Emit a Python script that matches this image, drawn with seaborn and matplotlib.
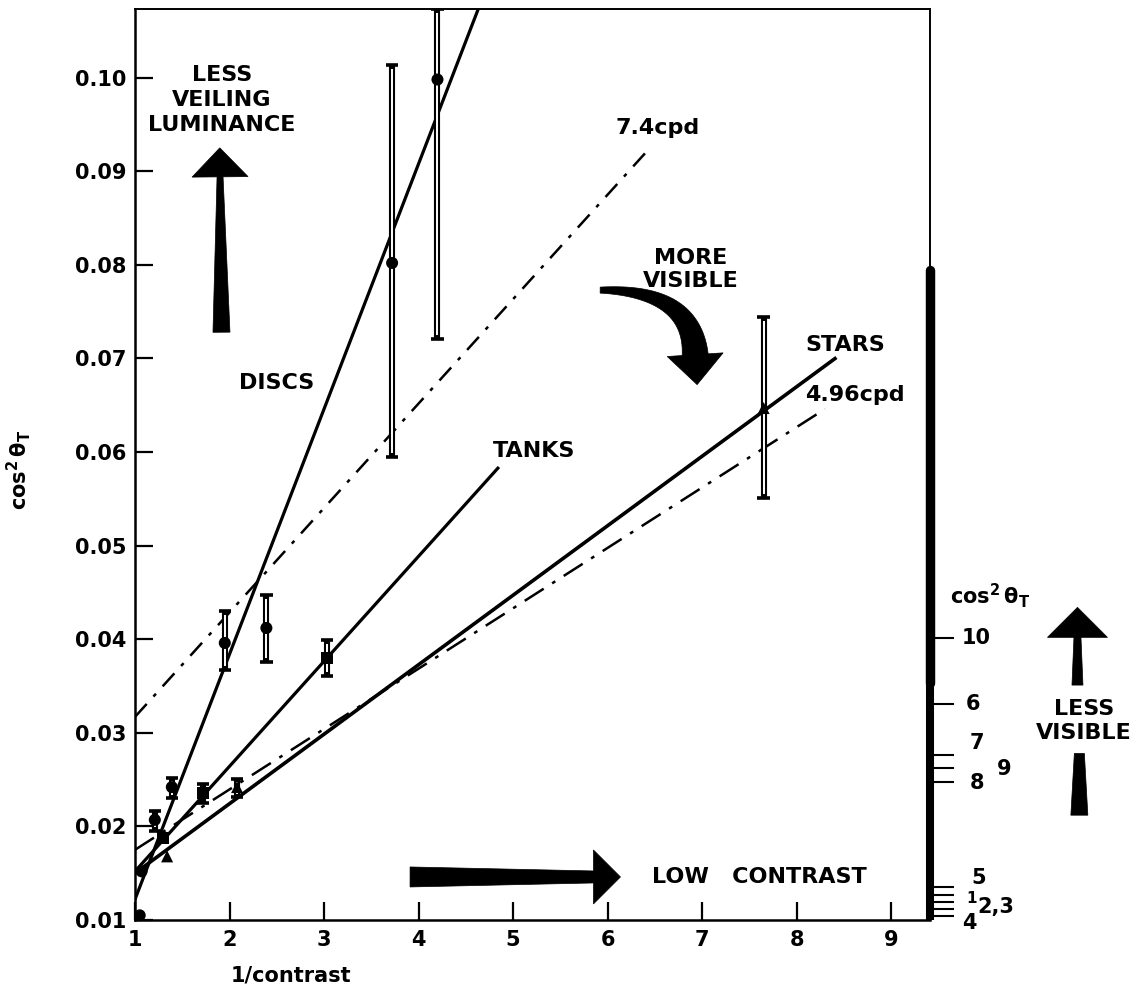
import numpy as np
import pandas as pd
import matplotlib
matplotlib.use("Agg")
import matplotlib.pyplot as plt
import seaborn as sns
from matplotlib.patches import Polygon
from matplotlib.transforms import IdentityTransform

# values
disc_x = [1.05, 1.07, 1.21, 1.39, 1.95, 2.39, 3.72, 4.20]
disc_y = [0.0105, 0.0152, 0.0207, 0.0242, 0.0396, 0.0412, 0.0802, 0.0998]
disc_lo = [np.nan, np.nan, 0.0195, 0.0230, 0.0367, 0.0376, 0.0595, 0.0721]
disc_hi = [np.nan, np.nan, 0.0216, 0.0252, 0.0430, 0.0447, 0.1013, 0.1073]

tank_x = [1.30, 1.72, 3.03]
tank_y = [0.0188, 0.0236, 0.0380]
tank_lo = [np.nan, 0.0225, 0.0361]
tank_hi = [np.nan, 0.0245, 0.0399]

star_x = [1.34, 2.08, 7.65]
star_y = [0.0168, 0.0242, 0.0647]
star_lo = [np.nan, 0.0231, 0.0551]
star_hi = [np.nan, 0.0251, 0.0744]

# fitted lines (end points)
disc_fit_x = [1.0, 4.63]
disc_fit_y = [0.0122, 0.1073]
tank_fit_x = [1.0, 4.85]
tank_fit_y = [0.0152, 0.0584]
star_fit_x = [1.0, 8.42]
star_fit_y = [0.0150, 0.0701]
cpd74_x = [1.0, 6.43]
cpd74_y = [0.0317, 0.0923]
cpd496_x = [1.0, 8.30]
cpd496_y = [0.0175, 0.0646]

# right hand cos^2 theta_T scale
scale_ticks = [0.0401, 0.0331, 0.0276, 0.0262, 0.0247, 0.0135, 0.0127, 0.0119, 0.0112, 0.0104]
scale_labels = ["10", "6", "7", "9", "8", "5", "1", "2,3", "4"]
scale_label_x = [9.75, 9.79, 9.83, 10.12, 9.83, 9.85, 9.79, 9.91, 9.75]
scale_label_y = [0.0401, 0.0331, 0.0289, 0.0261, 0.0246, 0.0145, 0.0123, 0.0114, 0.0097]

x_ticks = [1, 2, 3, 4, 5, 6, 7, 8, 9]
y_ticks = [0.01, 0.02, 0.03, 0.04, 0.05, 0.06, 0.07, 0.08, 0.09, 0.10]

sns.set_style("ticks")
plt.rcParams["font.family"] = ["DejaVu Sans"]
plt.rcParams["mathtext.fontset"] = "dejavusans"
plt.rcParams["text.color"] = "black"
plt.rcParams["axes.labelcolor"] = "black"

fig = plt.figure(figsize=(11.39, 9.93), dpi=100)
ax = fig.add_axes([0.1185, 0.0735, 0.698, 0.9174])
ax.set_xlim(1, 9.41)
ax.set_ylim(0.01, 0.10733)

for sp in ax.spines.values():
    sp.set_linewidth(1.4)
    sp.set_color("black")
ax.spines["left"].set_linewidth(1.8)
ax.spines["bottom"].set_linewidth(1.8)

# fitted lines
ax.plot(disc_fit_x, disc_fit_y, color="black", lw=2.3)
ax.plot(tank_fit_x, tank_fit_y, color="black", lw=2.3, solid_capstyle="butt")
ax.plot(star_fit_x, star_fit_y, color="black", lw=2.6, solid_capstyle="butt")
ax.plot(cpd74_x, cpd74_y, color="black", lw=1.8, dashes=(7, 4, 1.5, 4))
ax.plot(cpd496_x, cpd496_y, color="black", lw=1.8, dashes=(9, 4, 1.5, 4))


def draw_errors(xs, lo, hi):
    for x, a, b in zip(xs, lo, hi):
        if np.isnan(a):
            continue
        ax.vlines(x, a, b, color="black", lw=4.4, zorder=3)
        ax.vlines(x, a + 0.0004, b - 0.0004, color="white", lw=1.4, zorder=3)
        ax.hlines([a, b], x - 0.065, x + 0.065, color="black", lw=2.6, zorder=3)


draw_errors(disc_x, disc_lo, disc_hi)
draw_errors(tank_x, tank_lo, tank_hi)
draw_errors(star_x, star_lo, star_hi)

pts = pd.DataFrame({
    "x": disc_x + tank_x + star_x,
    "y": disc_y + tank_y + star_y,
    "target": ["DISCS"] * len(disc_x) + ["TANKS"] * len(tank_x) + ["STARS"] * len(star_x),
})
sns.scatterplot(data=pts, x="x", y="y", style="target",
                markers={"DISCS": "o", "TANKS": "s", "STARS": "^"},
                color="black", s=75, linewidth=0, legend=False, ax=ax, zorder=5)

ax.set_xticks(x_ticks)
ax.set_yticks(y_ticks)
ax.set_yticklabels([f"{v:.2f}" for v in y_ticks])
ax.tick_params(direction="in", length=13, width=1.6, labelsize=15, colors="black")
ax.tick_params(axis="x", pad=7)
ax.tick_params(axis="y", pad=6)
for lab in ax.get_xticklabels() + ax.get_yticklabels():
    lab.set_fontweight("bold")

ax.set_xlabel("1/contrast", fontsize=15, fontweight="bold")
ax.xaxis.set_label_coords(0.196, -0.05)
ax.set_ylabel(r"$\mathbf{cos^2\,\theta_T}$", fontsize=15)
ax.yaxis.set_label_coords(-0.128, 0.494)

# thick right hand scale bar and its ticks
ax.plot([9.41, 9.41], [0.0100, 0.0353], color="black", lw=5.8, clip_on=False,
        solid_capstyle="butt", zorder=6)
ax.plot([9.41, 9.41], [0.0353, 0.0795], color="black", lw=6.8, clip_on=False,
        solid_capstyle="round", zorder=6)
ax.hlines(scale_ticks, 9.41, 9.66, color="black", lw=1.5, clip_on=False)
for lab, lx, ly in zip(scale_labels, scale_label_x, scale_label_y):
    ax.text(lx, ly, lab, ha="left", va="center", fontsize=15 if lab != "1" else 11,
            fontweight="bold", clip_on=False)
ax.text(10.05, 0.0447, r"$\mathbf{cos^2\,\theta_T}$", ha="center", va="center",
        fontsize=15, clip_on=False)


def tapered_arrow(xs, ys, w0, w1, head_w=0, head_l=0):
    p = ax.transData.transform(np.column_stack([xs, ys]))
    d = np.gradient(p, axis=0)
    d /= np.linalg.norm(d, axis=1)[:, None]
    n = np.column_stack([-d[:, 1], d[:, 0]])
    w = np.linspace(w0, w1, len(p))[:, None] / 2
    parts = [p + n * w]
    if head_l:
        e, de, ne = p[-1], d[-1], n[-1]
        parts.append([e + ne * head_w, e + de * head_l, e - ne * head_w])
    parts.append((p - n * w)[::-1])
    ax.add_patch(Polygon(np.vstack(parts), closed=True, transform=IdentityTransform(),
                         facecolor="black", edgecolor="black", lw=0.5,
                         clip_on=False, zorder=6))


# arrows
tapered_arrow([1.915, 1.90], [0.0728, 0.0894], 17, 6, 28, 29)
tapered_arrow([3.91, 5.85], [0.0146, 0.0146], 20, 12, 27, 27)
tapered_arrow([10.97, 10.97], [0.0351, 0.0402], 11, 7, 30, 30)
tapered_arrow([10.99, 10.99], [0.0212, 0.0278], 17, 10)
t = np.linspace(0, 1, 40)
p0, p1, p2 = np.array([5.921, 0.0773]), np.array([6.894, 0.0773]), np.array([6.926, 0.0704])
curve = ((1 - t) ** 2)[:, None] * p0 + (2 * (1 - t) * t)[:, None] * p1 + (t ** 2)[:, None] * p2
tapered_arrow(curve[:, 0], curve[:, 1], 6, 26, 28, 30)

# annotations
txt = dict(fontweight="bold", fontsize=16, color="black")
ax.text(1.92, 0.0976, "LESS\nVEILING\nLUMINANCE", ha="center", va="center", linespacing=1.3, **txt)
ax.text(6.88, 0.0795, "MORE\nVISIBLE", ha="center", va="center", linespacing=1.2, **txt)
ax.text(2.50, 0.0674, "DISCS", ha="center", va="center", **txt)
ax.text(4.79, 0.0601, "TANKS", ha="left", va="center", **txt)
ax.text(8.51, 0.0714, "STARS", ha="center", va="center", **txt)
ax.text(8.62, 0.0661, "4.96cpd", ha="center", va="center", **txt)
ax.text(6.53, 0.0946, "7.4cpd", ha="center", va="center", **txt)
ax.text(6.47, 0.0146, "LOW   CONTRAST", ha="left", va="center", **txt)
ax.text(11.04, 0.0313, "LESS\nVISIBLE", ha="center", va="center", linespacing=1.25,
        clip_on=False, **txt)

fig.savefig("out.png", dpi=100)
